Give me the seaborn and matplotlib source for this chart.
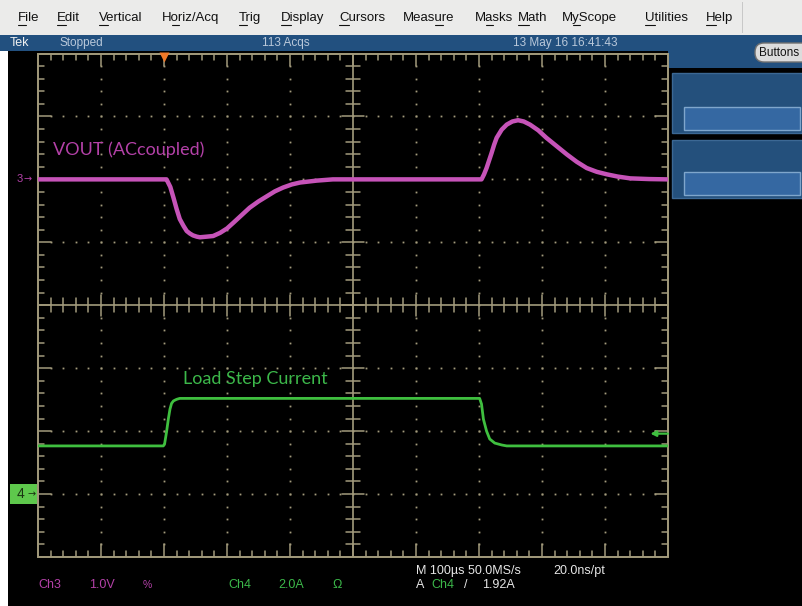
import matplotlib
matplotlib.use("Agg")
import numpy as np
import pandas as pd
import matplotlib.pyplot as plt
import matplotlib.transforms as mtransforms
from matplotlib.patches import Rectangle, FancyBboxPatch
from matplotlib.font_manager import FontProperties
import seaborn as sns

# ---------------- data ----------------
time_ch3_us = [-200, 0, 4, 10, 15, 20, 25, 31, 36, 41, 46, 52, 57, 68, 78, 89, 100,
               110, 123, 136, 150, 163, 176, 189, 203, 216, 242, 268, 300,
               504, 508, 512, 516, 520, 524, 528, 536, 544, 553, 562, 571, 581,
               594, 607, 623, 639, 655, 671, 687, 703, 720, 740, 770, 800]
vout_ch3_v = [0.0, 0.0, 0.0, -0.12, -0.29, -0.47, -0.63, -0.74, -0.82, -0.86, -0.89, -0.91, -0.92,
              -0.91, -0.90, -0.85, -0.78, -0.69, -0.57, -0.45, -0.35, -0.27, -0.19, -0.13, -0.08,
              -0.05, -0.02, 0.0, 0.0,
              0.0, 0.08, 0.18, 0.30, 0.42, 0.55, 0.66, 0.79, 0.87, 0.92, 0.94, 0.92, 0.87,
              0.78, 0.66, 0.53, 0.40, 0.28, 0.18, 0.12, 0.08, 0.045, 0.016, 0.005, 0.0]

time_ch4_us = [-200, -1, 1, 4, 7, 9.5, 12, 15, 20, 25, 501, 504, 507, 512, 517, 525, 536, 544, 800]
iload_ch4_a = [1.53, 1.53, 1.60, 1.97, 2.40, 2.70, 2.88, 2.96, 3.01, 3.04, 3.04, 2.86, 2.38,
               2.00, 1.75, 1.62, 1.56, 1.53, 1.53]

menu_items = ["File", "Edit", "Vertical", "Horiz/Acq", "Trig", "Display", "Cursors",
              "Measure", "Masks", "Math", "MyScope", "Utilities", "Help"]
menu_x_px = [18, 57, 99, 162, 239, 281, 339, 403, 475, 518, 562, 645, 706]
menu_underline_idx = [0, 0, 0, 1, 0, 0, 0, 4, 1, 0, 1, 0, 0]

ch3_label = "VOUT (ACcoupled)"
ch4_label = "Load Step Current"

ch3_v_per_div = 1.0
ch3_offset_div = 2.0
ch4_a_per_div = 2.0
ch4_offset_div = -3.0
time_us_per_div = 100
trigger_pos_div = 2
trigger_level_a = 1.92
n_hdiv, n_vdiv = 10, 8

# ---------------- styling ----------------
sns.set_theme(style="dark", rc={"axes.facecolor": "black", "figure.facecolor": "black"})
plt.rcParams['font.family'] = ['Liberation Sans', 'DejaVu Sans']

W, H = 802, 606
fig = plt.figure(figsize=(W / 100, H / 100), dpi=100, facecolor="black")
pix = mtransforms.Affine2D().scale(1, -1).translate(0, H) + \
      mtransforms.Affine2D().scale(1 / W, 1 / H) + fig.transFigure

GRAT = "#a39b7c"
MAG = "#c653b8"
MAG_T = "#b441a8"
GRN = "#3fbf3f"
GRN_T = "#3cb84a"
BLUE = "#22507f"
BOX = "#24507c"
INNER = "#3568a2"


def rect(x0, y0, x1, y1, fc, ec="none", lw=0, z=-5):
    r = Rectangle((x0, y0), x1 - x0, y1 - y0, transform=pix, fc=fc, ec=ec, lw=lw, zorder=z)
    fig.add_artist(r)
    return r


# backgrounds
rect(0, 0, W, 35, "#ebebea")
rect(742, 2, 743, 33, "#c8c8c8")
rect(0, 35, W, 51, BLUE)
rect(0, 51, 8, H, "#ffffff")
rect(668, 51, W, 68, BLUE)
rect(672, 73, W + 2, 133, BOX, ec="#3c6894", lw=1)
rect(684, 107, 800, 130, INNER, ec="#7fa6cc", lw=1)
rect(672, 140, W + 2, 198, BOX, ec="#3c6894", lw=1)
rect(684, 172, 800, 195, INNER, ec="#7fa6cc", lw=1)

btn = FancyBboxPatch((755, 43), 60, 19, boxstyle="round,pad=0,rounding_size=9",
                     transform=pix, fc="#dcdcdc", ec="#707070", lw=1, zorder=-4)
fig.add_artist(btn)
fig.text(759, 53, "Buttons", transform=pix, fontsize=8.5, color="#111111", va="center", ha="left")

# menu bar
fp_menu = FontProperties(family=['Liberation Sans', 'DejaVu Sans'], size=9.5)
renderer = fig.canvas.get_renderer()
for item, xp, ui in zip(menu_items, menu_x_px, menu_underline_idx):
    fig.text(xp, 18, item, transform=pix, fontproperties=fp_menu, color="#111111",
             va="center", ha="left")
    wpre = renderer.get_text_width_height_descent(item[:ui], fp_menu, False)[0] if ui > 0 else 0
    wch = renderer.get_text_width_height_descent(item[ui], fp_menu, False)[0]
    fig.add_artist(plt.Line2D([xp + wpre, xp + wpre + wch], [25, 25], transform=pix,
                              color="#111111", lw=0.8))

# status bar
fig.text(10, 43, "Tek", transform=pix, fontsize=9, color="#f0f0f0", va="center")
fig.text(59, 43, "Stopped", transform=pix, fontsize=8.5, color="#b9c8da", va="center")
fig.text(262, 43, "113 Acqs", transform=pix, fontsize=8.5, color="#b9c8da", va="center")
fig.text(513, 43, "13 May 16 16:41:43", transform=pix, fontsize=8.5, color="#b9c8da", va="center")

# ---------------- graticule ----------------
GL, GR, GT, GB = 38, 668, 53.5, 557
pos = [GL / W, 1 - GB / H, (GR - GL) / W, (GB - GT) / H]

axg = fig.add_axes(pos, zorder=1)
axg.set_xlim(0, n_hdiv)
axg.set_ylim(0, n_vdiv)
axg.set_axis_off()

axg.add_patch(Rectangle((0, 0), n_hdiv, n_vdiv, fill=False, ec=GRAT, lw=1.4, clip_on=False))
mx = np.round(np.arange(0, n_hdiv + 0.001, 0.2), 3)
my = np.round(np.arange(0, n_vdiv + 0.001, 0.2), 3)
for i in range(1, n_hdiv):
    if i == n_hdiv // 2:
        continue
    ys = my[1:-1]
    axg.plot(np.full_like(ys, i), ys, ls="none", marker="s", ms=1.3, mfc=GRAT, mec="none")
for j in range(1, n_vdiv):
    if j == n_vdiv // 2:
        continue
    xs = mx[1:-1]
    axg.plot(xs, np.full_like(xs, j), ls="none", marker="s", ms=1.3, mfc=GRAT, mec="none")

cx, cy = n_hdiv / 2, n_vdiv / 2
axg.plot([cx, cx], [0, n_vdiv], color=GRAT, lw=1.2)
axg.plot([0, n_hdiv], [cy, cy], color=GRAT, lw=1.2)


def is_major(v):
    return abs(v - round(v)) < 1e-6


for x in mx[1:-1]:
    L = 0.17 if is_major(x) else 0.11
    axg.plot([x, x], [cy - L, cy + L], color=GRAT, lw=1.1)
    L2 = 0.2 if is_major(x) else 0.1
    axg.plot([x, x], [n_vdiv, n_vdiv - L2], color=GRAT, lw=1.1)
    axg.plot([x, x], [0, L2], color=GRAT, lw=1.1)
for y in my[1:-1]:
    L = 0.17 if is_major(y) else 0.11
    axg.plot([cx - L, cx + L], [y, y], color=GRAT, lw=1.1)
    L2 = 0.2 if is_major(y) else 0.1
    axg.plot([0, L2], [y, y], color=GRAT, lw=1.1)
    axg.plot([n_hdiv - L2, n_hdiv], [y, y], color=GRAT, lw=1.1)

# ---------------- traces ----------------
t_min = -trigger_pos_div * time_us_per_div
t_max = (n_hdiv - trigger_pos_div) * time_us_per_div

df3 = pd.DataFrame({"time_us": time_ch3_us, "volts": vout_ch3_v})
df4 = pd.DataFrame({"time_us": time_ch4_us, "amps": iload_ch4_a})

ax3 = fig.add_axes(pos, zorder=2)
ax3.set_facecolor("none")
sns.lineplot(data=df3, x="time_us", y="volts", ax=ax3, color=MAG, lw=3.2,
             estimator=None, sort=False)
ax3.set_xlim(t_min, t_max)
ax3.set_ylim((-n_vdiv / 2 - ch3_offset_div) * ch3_v_per_div,
             (n_vdiv / 2 - ch3_offset_div) * ch3_v_per_div)
ax3.set_axis_off()

ax4 = fig.add_axes(pos, zorder=3)
ax4.set_facecolor("none")
sns.lineplot(data=df4, x="time_us", y="amps", ax=ax4, color=GRN, lw=2.0,
             estimator=None, sort=False)
ax4.set_xlim(t_min, t_max)
ax4.set_ylim((-n_vdiv / 2 - ch4_offset_div) * ch4_a_per_div,
             (n_vdiv / 2 - ch4_offset_div) * ch4_a_per_div)
ax4.set_axis_off()

# trigger position marker (orange) and trigger level arrow
bt3 = mtransforms.blended_transform_factory(ax3.transData, ax3.transAxes)
ax3.plot([0], [0.994], transform=bt3, marker="v", ms=7, color="#f07828", mec="none",
         clip_on=False)
bt4 = mtransforms.blended_transform_factory(ax4.transAxes, ax4.transData)
ax4.annotate("", xy=(0.972, trigger_level_a), xytext=(1.0, trigger_level_a),
             xycoords=bt4, textcoords=bt4,
             arrowprops=dict(arrowstyle="-|>", color=GRN, lw=1.6, mutation_scale=8,
                             shrinkA=0, shrinkB=0))

# channel ground markers
gt3 = mtransforms.blended_transform_factory(fig.transFigure, ax3.transData)
fig.text(17 / W, 0.0, "3", transform=gt3, fontsize=8, color=MAG_T, va="center", ha="left")
fig.text(24 / W, 0.0, "→", transform=gt3, fontsize=7, color=MAG_T, va="center", ha="left",
         family=["DejaVu Sans"])
rect(10, 484, 37, 504, "#5ec84c", z=5)
gt4 = mtransforms.blended_transform_factory(fig.transFigure, ax4.transData)
fig.text(17 / W, 0.0, "4", transform=gt4, fontsize=10, color="#1a3312", va="center",
         ha="left", zorder=6)
fig.text(28 / W, 0.0, "→", transform=gt4, fontsize=7, color="#1a3312", va="center",
         ha="left", zorder=6, family=["DejaVu Sans"])

# trace labels
fig.text(53, 150, ch3_label, transform=pix, fontsize=13, color=MAG_T, va="center",
         ha="left", family=["Lato", "DejaVu Sans"])
fig.text(183, 379, ch4_label, transform=pix, fontsize=13, color=GRN_T, va="center",
         ha="left", family=["Lato", "DejaVu Sans"])

# ---------------- bottom readouts ----------------
fs = 9
fig.text(38, 585, "Ch3", transform=pix, fontsize=fs, color=MAG_T, va="center")
fig.text(89, 585, "1.0V", transform=pix, fontsize=fs, color=MAG_T, va="center")
fig.text(143, 585, "%", transform=pix, fontsize=7.5, color=MAG_T, va="center")
fig.text(228, 585, "Ch4", transform=pix, fontsize=fs, color=GRN_T, va="center")
fig.text(278, 585, "2.0A", transform=pix, fontsize=fs, color=GRN_T, va="center")
fig.text(332, 585, "Ω", transform=pix, fontsize=fs, color=GRN_T, va="center")
fig.text(416, 571, "M 100µs 50.0MS/s", transform=pix, fontsize=fs, color="#e6e6e6", va="center")
fig.text(553, 571, "20.0ns/pt", transform=pix, fontsize=fs, color="#e6e6e6", va="center")
fig.text(416, 585, "A", transform=pix, fontsize=fs, color="#e6e6e6", va="center")
fig.text(431, 585, "Ch4", transform=pix, fontsize=fs, color=GRN_T, va="center")
fig.text(464, 585, "/", transform=pix, fontsize=fs, color="#e6e6e6", va="center")
fig.text(482, 585, "1.92A", transform=pix, fontsize=fs, color="#e6e6e6", va="center")

fig.savefig("out.png", dpi=100, facecolor="black")
